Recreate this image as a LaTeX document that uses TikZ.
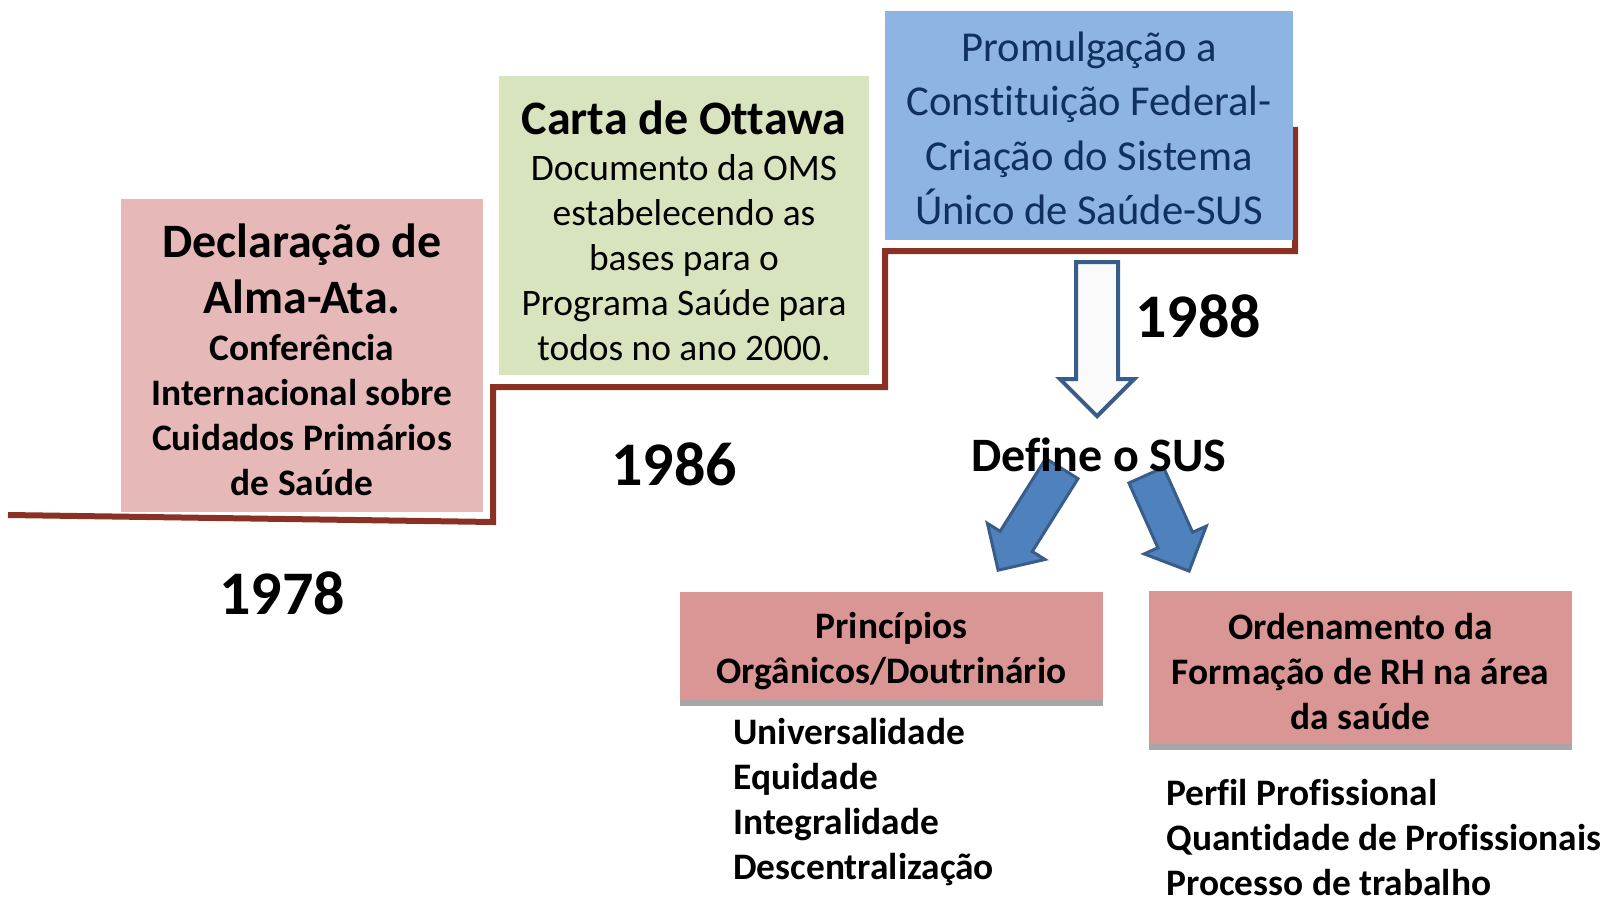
\documentclass[tikz,border=0pt]{standalone}
\usepackage{fontspec}
\setmainfont{Carlito}[Ligatures=CommonOff]
\usepackage{tikz}
\usetikzlibrary{shapes.arrows}
\definecolor{stepred}{HTML}{8B3123}
\definecolor{almapink}{HTML}{E6B9B8}
\definecolor{ottgreen}{HTML}{D7E4BD}
\definecolor{cfblue}{HTML}{8DB4E2}
\definecolor{cfnavy}{HTML}{10305F}
\definecolor{susrose}{HTML}{D99694}
\definecolor{bargray}{HTML}{A6A6A6}
\definecolor{arrowblue}{HTML}{4F81BD}
\definecolor{arrowedge}{HTML}{385D8A}
\newcommand{\headfnt}{\fontsize{24}{28}\selectfont\bfseries}
\newcommand{\bodyfnt}{\fontsize{18.7}{22.4}\selectfont}
\newcommand{\yearfnt}{\fontsize{31}{36}\selectfont\bfseries}

\begin{document}
\begin{tikzpicture}[x=0.5pt,y=-0.5pt,
    box/.style={inner sep=0pt},
    boxtext/.style={inner sep=0pt, align=flush center},
    blockarrow/.style={single arrow, inner xsep=0pt, text height=0pt, text depth=0pt,
        single arrow head extend=#1, anchor=tip},
    year/.style={inner sep=0pt, font=\yearfnt}]
 \useasboundingbox (0,0) rectangle (1608,899);
 %steps
    \draw[stepred, line width=3pt, line join=miter]
      (8,515) -- (493,522) -- (493,387) -- (885,387) -- (885,251) -- (1295,251) -- (1295,127);
 %step 1978
    \node[box, fill=almapink, minimum width=181pt, minimum height=156.5pt] (alma) at (302,355.5) {};
    \node[boxtext, text width=181pt] (almatext) at ([yshift=-2pt]alma.center)
      {{\headfnt Declaração de\\Alma-Ata.\par}\vspace{1.5pt}
       {\bodyfnt\bfseries Conferência\\Internacional sobre\\Cuidados Primários\\de Saúde\par}};
    \node[year] (y78) at (282,593) {1978};
 %step 1986
    \node[box, fill=ottgreen, minimum width=185pt, minimum height=149.5pt] (ottawa) at (684,225.5) {};
    \node[boxtext, text width=185pt] (ottawatext) at ([yshift=-2.5pt]ottawa.center)
      {{\headfnt Carta de Ottawa\par}\vspace{1pt}
       {\bodyfnt Documento da OMS\\estabelecendo as\\bases para o\\Programa Saúde para\\todos no ano 2000.\par}};
    \node[year] (y86) at (674,464) {1986};
 %step 1988
    \node[box, fill=cfblue, minimum width=204pt, minimum height=114.5pt] (cf) at (1089,125.5) {};
    \node[boxtext, text=cfnavy, text width=204pt] (cftext) at ([yshift=-1.5pt]cf.center)
      {\fontsize{21.3}{27.2}\selectfont Promulgação a\\Constituição Federal-\\Criação do Sistema\\Único de Saúde-SUS\par};
    \node[year] (y88) at (1198,316) {1988};
 %arrows
    \node[blockarrow=8pt, draw=arrowedge, line width=2pt, fill=white!98!black,
      inner ysep=9.5pt, minimum height=77pt, rotate=-90] (down) at (1097,419) {};
    \node[blockarrow=7.5pt, draw=arrowedge, line width=1.5pt, fill=arrowblue,
      inner ysep=8.75pt, minimum height=60pt, rotate=237.9] (left) at (997,572) {};
    \node[blockarrow=7.5pt, draw=arrowedge, line width=1.5pt, fill=arrowblue,
      inner ysep=8.75pt, minimum height=52.5pt, rotate=-65.9] (right) at (1190,573) {};
    \node[inner sep=0pt, font=\headfnt] (sus) at (1099,455) {Define o SUS};
 %SUS boxes
    \node[box, fill=susrose, minimum width=211.5pt, minimum height=54pt] (princ) at (891.5,646) {};
    \node[boxtext, text width=211.5pt, font=\bodyfnt\bfseries] (princtext) at ([yshift=-2.5pt]princ.center)
      {Princípios\\Orgânicos/Doutrinário};
    \draw[bargray, line width=3pt] ([yshift=-1.5pt]princ.south west) -- ([yshift=-1.5pt]princ.south east);
    \node[box, fill=susrose, minimum width=211.5pt, minimum height=76.5pt] (rh) at (1360.5,667.5) {};
    \node[boxtext, text width=211.5pt, font=\bodyfnt\bfseries] (rhtext) at ([yshift=-2pt]rh.center)
      {Ordenamento da\\Formação de RH na área\\da saúde};
    \draw[bargray, line width=3pt] ([yshift=-1.5pt]rh.south west) -- ([yshift=-1.5pt]rh.south east);
 %lists
    \node[inner sep=0pt, align=left, anchor=north west, font=\bodyfnt\bfseries] (plist) at (733,718)
      {Universalidade\\Equidade\\Integralidade\\Descentralização};
    \node[inner sep=0pt, align=left, anchor=north west, font=\bodyfnt\bfseries] (rhlist) at (1166,779)
      {Perfil Profissional\\Quantidade de Profissionais\\Processo de trabalho};
\end{tikzpicture}
\end{document}
